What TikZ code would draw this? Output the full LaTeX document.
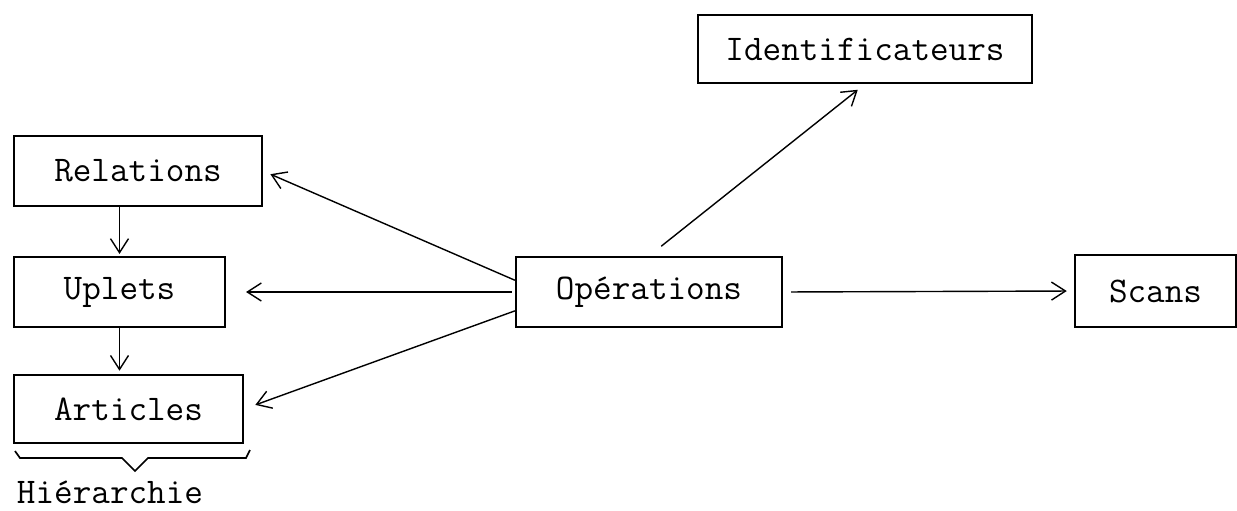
\documentclass[tikz,border=0pt]{standalone}
\usetikzlibrary{arrows.meta}
\begin{document}
\begin{tikzpicture}
  [box/.style={draw,line width=1.5pt,inner sep=0pt,minimum height=1.75cm},
   flow/.style={-{Straight Barb[length=0.35cm,width=0.45cm]},line width=1pt},
   font=\ttfamily\fontsize{25.7}{30}\selectfont]
  \useasboundingbox (0,0) rectangle (30.925,12.75);

  \node[box,minimum width=6.2cm]   (rel) at (3.45,8.475)   {Relations};
  \node[box,minimum width=5.275cm] (upl) at (2.9875,5.45)  {Uplets};
  \node[box,minimum width=5.725cm,minimum height=1.7cm] (art) at (3.2125,2.525) {Articles};
  \node[box,minimum width=6.65cm]  (ops) at (16.225,5.45)  {Opérations};
  \node[box,minimum width=8.35cm,minimum height=1.7cm]  (idf) at (21.625,11.525) {Identificateurs};
  \node[box,minimum width=4.025cm,minimum height=1.8cm] (scn) at (28.8875,5.475) {Scans};
  \node (hier) at (2.75,0.45) {Hiérarchie};

  \draw[flow,shorten >=0.05cm] (rel.south -| upl.north) -- (upl.north);
  \draw[flow,shorten >=0.08cm] (upl.south) -- (upl.south |- art.north);
  \draw[flow,shorten >=0.2cm] (ops.175) -- (rel.east);
  \draw[flow,shorten >=0.5cm,shorten <=0.08cm] (ops.west) -- (upl.east);
  \draw[flow,shorten >=0.3cm] (ops.188) -- (art.east);
  \draw[flow,shorten <=0.39cm,shorten >=0.23cm] (ops.north) -- (idf.south);
  \draw[flow,shorten <=0.2cm,shorten >=0.18cm] (ops.east) -- (scn.west);

  \draw[line width=1.2pt] (0.375,1.475) -- (0.5,1.3) -- (3.05,1.3) -- (3.375,0.975)
    -- (3.7,1.3) -- (6.15,1.3) -- (6.25,1.5);
\end{tikzpicture}
\end{document}
